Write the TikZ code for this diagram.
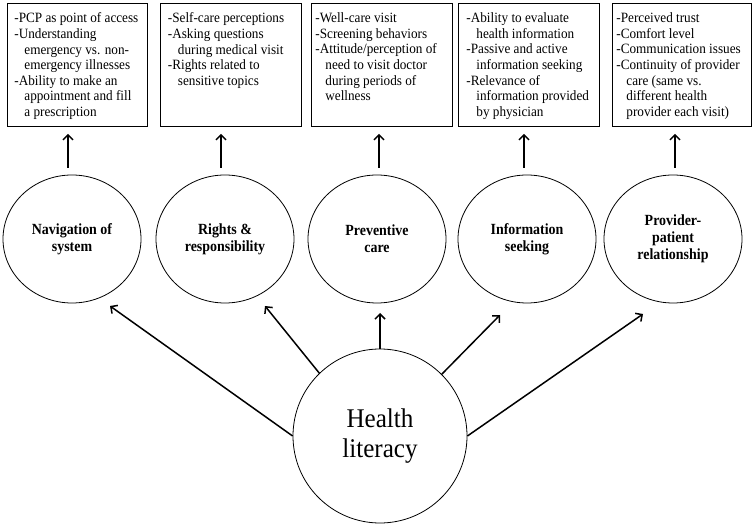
\documentclass[tikz,border=0pt]{standalone}
\usepackage{fontspec}
\setmainfont{Liberation Serif}
\newfontfamily\boxfont[FakeStretch=0.93]{Liberation Serif}
\newfontfamily\ellfont[FakeStretch=0.9]{Liberation Serif}
\newfontfamily\hlfont[FakeStretch=0.93]{Liberation Serif}
\usetikzlibrary{arrows.meta,shapes.geometric}
\newcommand\itm[1]{\par\hangindent=10pt\hangafter=1\noindent-#1}
\newcommand\boxtxt[3]{\hspace*{#1}\parbox[c][123pt][t]{\dimexpr#2-#1\relax}{\boxfont\fontsize{14.2}{15.6}\selectfont\hyphenpenalty=10000\vspace*{9.5pt}#3}}
\tikzset{
  tbox/.style={draw, line width=0.8pt, anchor=north west, inner sep=0pt},
  ell/.style={ellipse, draw, line width=0.8pt, minimum width=138pt, minimum height=128pt, inner sep=0pt, align=center, font=\ellfont\bfseries\fontsize{15.5}{17}\selectfont},
  hlc/.style={circle, draw, line width=0.8pt, minimum size=174pt, inner sep=0pt, align=center, font=\hlfont\fontsize{27}{30}\selectfont},
  arr/.style={line width=1.5pt, -{Straight Barb[length=5pt,width=10pt]}},
  varr/.style={arr, shorten <=7pt, shorten >=7pt}
}
\begin{document}
\begin{tikzpicture}[x=1pt,y=-1pt]
\useasboundingbox (0,0) rectangle (755,526);
\node[tbox] (b1) at (7,3) {\boxtxt{7pt}{140pt}{\itm{PCP as point of access}\itm{Understanding\\emergency vs. non-\\emergency illnesses}\itm{Ability to make an\\appointment and fill\\a prescription}}};
\node[tbox] (b2) at (160,3) {\boxtxt{7.5pt}{141pt}{\itm{Self-care perceptions}\itm{Asking questions\\during medical visit}\itm{Rights related to\\sensitive topics}}};
\node[tbox] (b3) at (311,3) {\boxtxt{4pt}{141pt}{\itm{Well-care visit}\itm{Screening behaviors}\itm{Attitude/perception of\\need to visit doctor\\during periods of\\wellness}}};
\node[tbox] (b4) at (458,3) {\boxtxt{8pt}{141pt}{\itm{Ability to evaluate\\health information}\itm{Passive and active\\information seeking}\itm{Relevance of\\information provided\\by physician}}};
\node[tbox] (b5) at (612,3) {\boxtxt{4pt}{139pt}{\itm{Perceived trust}\itm{Comfort level}\itm{Communication issues}\itm{Continuity of provider\\care (same vs.\\different health\\provider each visit)}}};
\node[ell] (e1) at (72,239) {Navigation of\\system};
\node[ell] (e2) at (225,239) {Rights \&\\responsibility};
\node[ell] (e3) at (377,239) {Preventive\\care};
\node[ell] (e4) at (527,239) {Information\\seeking};
\node[ell] (e5) at (673,239) {Provider-\\patient\\relationship};
\node[hlc] (hl) at (380,436) {Health\\literacy};
\draw[varr] ([xshift=-4pt]e1.north) -- ([xshift=-4pt]e1.north |- b1.south);
\draw[varr] ([xshift=-4pt]e2.north) -- ([xshift=-4pt]e2.north |- b2.south);
\draw[varr] ([xshift=2pt]e3.north) -- ([xshift=2pt]e3.north |- b3.south);
\draw[varr] ([xshift=-3pt]e4.north) -- ([xshift=-3pt]e4.north |- b4.south);
\draw[varr] ([xshift=2pt]e5.north) -- ([xshift=2pt]e5.north |- b5.south);
\coordinate (h1) at (110,306);
\coordinate (h2) at (265,306);
\coordinate (h3) at (380,313);
\coordinate (h4) at (500,315);
\coordinate (h5) at (643,314);
\draw[arr] (hl.west) -- (h1);
\draw[arr] (hl.134.5) -- (h2);
\draw[arr] (hl.north) -- (h3);
\draw[arr] (hl.45.5) -- (h4);
\draw[arr] (hl.east) -- (h5);
\end{tikzpicture}
\end{document}
